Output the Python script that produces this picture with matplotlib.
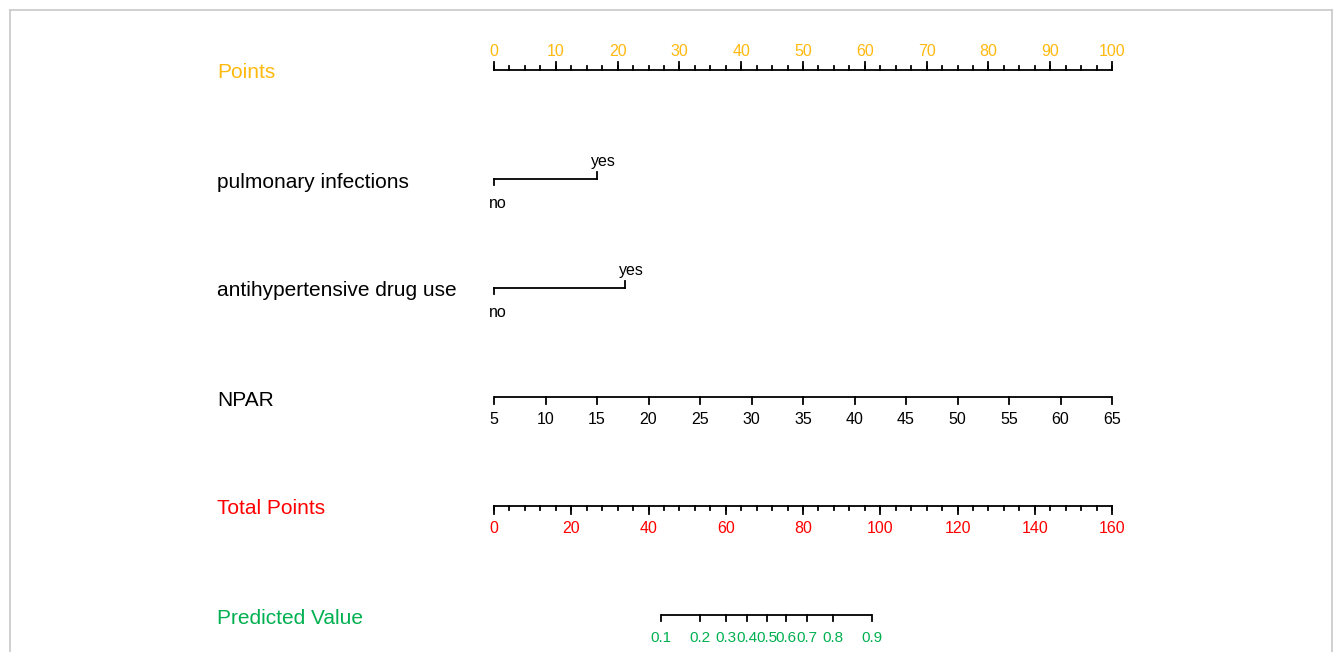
import numpy as np
import matplotlib.pyplot as plt
from matplotlib.lines import Line2D

plt.rcParams['font.family'] = ['Liberation Sans', 'DejaVu Sans']

# Nomogram scales (all positions expressed in "Points", 0-100)
points_ticks = np.arange(0, 101, 10)
points_minor = np.arange(0, 100.1, 2.5)

pulm_levels = ['no', 'yes']
pulm_points = [0, 16.7]

anti_levels = ['no', 'yes']
anti_points = [0, 21.2]

npar_ticks = np.arange(5, 66, 5)
npar_range = [5, 65]
npar_points_range = [0, 100]

total_ticks = np.arange(0, 161, 20)
total_minor = np.arange(0, 160.1, 4)
total_max = 160

pred_values = [0.1, 0.2, 0.3, 0.4, 0.5, 0.6, 0.7, 0.8, 0.9]
pred_total = [43.3, 53.4, 60.1, 65.4, 70.6, 75.6, 81.0, 87.7, 97.8]

row_names = ['Points', 'pulmonary infections', 'antihypertensive drug use',
             'NPAR', 'Total Points', 'Predicted Value']
row_colors = ['#FFB90F', 'black', 'black', 'black', '#FF0000', '#00B050']

W, H = 1333, 652
fig = plt.figure(figsize=(W / 100, H / 100), dpi=100)
ax = fig.add_axes([494 / W, 0, (1112 - 494) / W, 1])
ax.set_xlim(0, 100)
ax.set_ylim(H, 0)
ax.axis('off')

row_y = [70, 179, 288, 397, 506, 615]
lw = 1.3
tick_fs = 11.5
lab_fs = 15


def scale(y, pos, labels, color, major_len, minor_pos=None, minor_len=0, up=False,
          label_off=20, fs=tick_fs):
    sgn = -1 if up else 1
    ax.plot([min(pos), max(pos)], [y, y], color='black', lw=lw, clip_on=False, solid_capstyle='butt')
    for p, lab in zip(pos, labels):
        ax.plot([p, p], [y, y + sgn * major_len], color='black', lw=lw, clip_on=False)
        ax.text(p, y + sgn * label_off, lab, color=color, fontsize=fs,
                ha='center', va='center_baseline')
    if minor_pos is not None:
        for p in minor_pos:
            ax.plot([p, p], [y, y + sgn * minor_len], color='black', lw=lw, clip_on=False)


# Points
scale(row_y[0], points_ticks, [str(v) for v in points_ticks], row_colors[0], 8,
      points_minor, 4, up=True, label_off=20)

# Categorical predictors: "no" hangs below the line, "yes" sits above it
for y, pts, levels in [(row_y[1], pulm_points, pulm_levels),
                       (row_y[2], anti_points, anti_levels)]:
    ax.plot(pts, [y, y], color='black', lw=lw, clip_on=False)
    ax.plot([pts[0], pts[0]], [y, y + 6], color='black', lw=lw, clip_on=False)
    ax.plot([pts[1], pts[1]], [y, y - 7], color='black', lw=lw, clip_on=False)
    ax.text(pts[0] + 0.6, y + 23, levels[0], fontsize=11.5, ha='center', va='center_baseline')
    ax.text(pts[1] + 1.0, y - 19, levels[1], fontsize=11.5, ha='center', va='center_baseline')

# NPAR
npar_pos = np.interp(npar_ticks, npar_range, npar_points_range)
scale(row_y[3], npar_pos, [str(v) for v in npar_ticks], 'black', 7, label_off=21)

# Total Points
tot_pos = total_ticks / total_max * 100
scale(row_y[4], tot_pos, [str(v) for v in total_ticks], row_colors[4], 8,
      total_minor / total_max * 100, 4, label_off=21)

# Predicted Value
pred_pos = np.array(pred_total) / total_max * 100
scale(row_y[5], pred_pos, [str(v) for v in pred_values], row_colors[5], 6,
      label_off=21, fs=11)

# Row names
for name, y, c in zip(row_names, row_y, row_colors):
    fig.text(217 / W, 1 - (y + 1) / H, name, color=c, fontsize=lab_fs, ha='left',
             va='center_baseline')

# Light frame around the panel
frame_c = '#C8C8C8'
fig.add_artist(Line2D([9.5 / W, 9.5 / W], [0, 1 - 10 / H], color=frame_c, lw=1.2))
fig.add_artist(Line2D([9.5 / W, 1331.5 / W], [1 - 10 / H, 1 - 10 / H], color=frame_c, lw=1.2))
fig.add_artist(Line2D([1331.5 / W, 1331.5 / W], [0, 1 - 10 / H], color=frame_c, lw=1.2))

fig.savefig('out.png', dpi=100)
